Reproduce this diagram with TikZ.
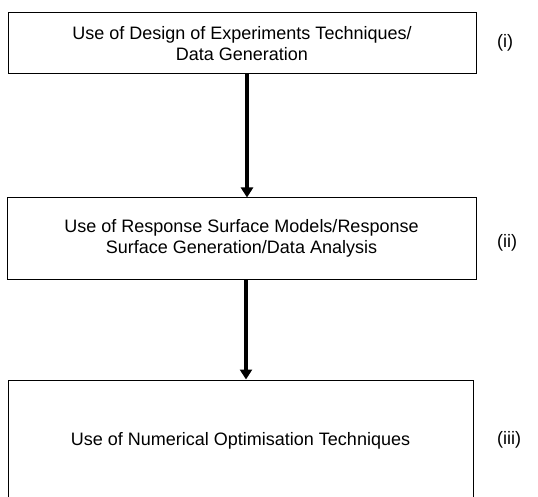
\documentclass[tikz,border=0pt]{standalone}
\usepackage{fontspec}
\setmainfont{Liberation Sans}
\usetikzlibrary{arrows.meta,positioning}

\begin{document}
\begin{tikzpicture}[x=1pt,y=1pt,>=Stealth,font=\fontsize{18}{20.5}\selectfont,
 stage/.style={draw,line width=1pt,align=center,inner sep=0pt},
 flow/.style={-{Triangle[length=10pt,width=12pt]},line width=3.6pt},
 tag/.style={anchor=west,inner sep=0pt}]
\useasboundingbox (0,0) rectangle (538,496);
\node[stage,minimum width=468,minimum height=61] (s1) at (242,452.5)
 {Use of Design of Experiments Techniques/\\Data Generation};
\node[stage,minimum width=469,minimum height=81] (s2) at (241.5,257.5)
 {Use of Response Surface Models/Response\\Surface Generation/Data Analysis};
\node[stage,minimum width=465,minimum height=122] (s3) at (240.5,55)
 {Use of Numerical Optimisation Techniques};
\draw[flow] ([xshift=5pt]s1.south) -- ([xshift=5.5pt]s2.north);
\draw[flow] ([xshift=4.5pt]s2.south) -- ([xshift=5.5pt]s3.north);
\node[tag] (t1) at (497,453) {(i)};
\node[tag] (t2) at (497,253) {(ii)};
\node[tag] (t3) at (497,56) {(iii)};
\end{tikzpicture}
\end{document}
